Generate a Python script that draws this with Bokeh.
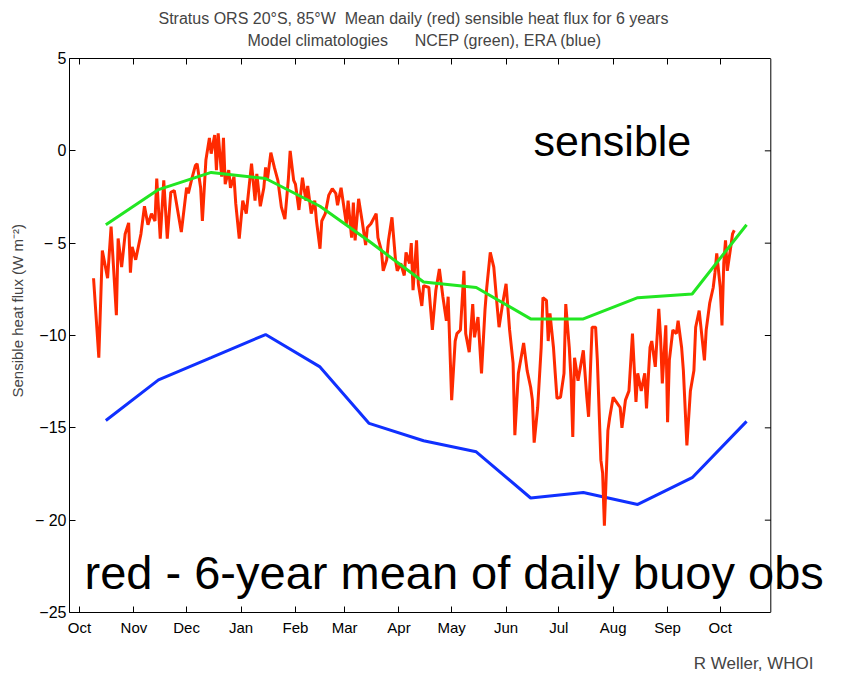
from bokeh.plotting import figure
from bokeh.models import Range1d, FixedTicker, LinearAxis, Label, Title, Span
from bokeh.embed import file_html
from bokeh.resources import INLINE

# ---- data ----
month_days = [0, 31, 61, 92, 123, 151, 182, 212, 243, 273, 304, 335, 365]
month_labels = ["Oct", "Nov", "Dec", "Jan", "Feb", "Mar", "Apr", "May", "Jun",
                "Jul", "Aug", "Sep", "Oct"]

clim_day = [15, 45, 75, 106, 137, 165, 196, 226, 257, 287, 318, 349, 380]
ncep_flux = [-4.0, -2.1, -1.17, -1.5, -3.0, -4.9, -7.1, -7.4, -9.1, -9.1, -7.95, -7.75, -4.0]
era_flux = [-14.6, -12.4, -11.2, -9.95, -11.7, -14.76, -15.7, -16.3, -18.8, -18.5, -19.15, -17.7, -14.65]

buoy_day = [8, 11, 13, 16, 18, 21, 22, 24, 26, 28, 29, 30, 32, 35, 37, 39, 41, 43, 44, 46,
            48, 50, 52, 54, 58, 61, 62, 64, 66, 67, 69, 70, 72, 74, 75, 77, 78, 79, 81, 82,
            83, 85, 86, 88, 89, 90, 91, 93, 95, 96, 98, 100, 101, 103, 105, 106, 107, 109, 111, 113,
            115, 117, 119, 120, 122, 123, 125, 127, 129, 130, 132, 134, 135, 137, 138, 140, 142, 144, 146, 147,
            149, 152, 153, 155, 156, 157, 159, 161, 163, 164, 166, 169, 170, 172, 173, 175, 176, 178, 180, 181,
            183, 185, 186, 188, 189, 190, 192, 193, 195, 196, 199, 201, 203, 205, 207, 209, 210, 212, 214, 215,
            217, 219, 220, 222, 224, 225, 227, 229, 231, 232, 234, 236, 238, 239, 241, 243, 245, 247, 248, 250,
            253, 255, 257, 258, 259, 261, 263, 264, 266, 267, 268, 270, 271, 272, 274, 276, 277, 279, 280, 281,
            282, 284, 287, 289, 290, 292, 294, 295, 297, 298, 299, 301, 302, 304, 308, 309, 311, 313, 315, 317,
            318, 320, 322, 323, 325, 326, 328, 330, 331, 332, 334, 335, 336, 338, 340, 341, 343, 344, 346, 348,
            350, 351, 353, 354, 356, 357, 359, 361, 362, 363, 365, 366, 367, 368, 369, 371, 372, 373]
buoy_flux = [-6.9, -11.2, -5.4, -6.9, -4.1, -8.9, -4.75, -6.3, -4.5, -3.9, -6.6, -5.2, -5.9, -4.5, -3.0, -4.0, -3.4, -3.8, -1.5, -4.75,
             -1.6, -4.75, -2.25, -2.15, -4.4, -2.0, -2.3, -1.5, -0.8, -0.7, -2.0, -3.8, -0.5, 0.7, -0.15, 0.85, -1.05, 0.95, -1.4, 0.7,
             -1.8, -1.05, -2.0, -1.4, -2.85, -3.8, -4.75, -2.7, -3.4, -2.5, -0.7, -2.7, -1.25, -3.0, -2.0, -0.9, -1.6, -0.1, -0.9, -1.6,
             -3.05, -3.7, -1.5, 0.0, -1.6, -1.8, -3.2, -1.45, -2.7, -1.9, -3.4, -2.7, -3.8, -5.3, -3.8, -3.4, -2.4, -2.05, -2.3, -2.95,
             -2.0, -3.95, -2.7, -4.7, -2.8, -4.85, -2.6, -3.8, -5.1, -4.15, -3.95, -3.4, -4.7, -5.4, -6.5, -5.9, -4.85, -3.6, -5.9, -6.5,
             -6.1, -6.75, -5.5, -6.1, -5.0, -7.55, -4.85, -7.2, -8.4, -7.3, -7.4, -9.7, -7.55, -6.4, -7.9, -9.2, -7.9, -13.5, -10.3, -9.9,
             -9.7, -6.5, -9.9, -10.9, -8.3, -10.1, -9.0, -12.05, -8.6, -7.4, -5.5, -6.3, -8.5, -9.55, -8.3, -7.2, -9.7, -11.5, -15.4, -12.05,
             -10.4, -11.9, -12.8, -13.5, -15.8, -13.9, -10.65, -7.95, -8.1, -10.3, -8.8, -10.65, -12.05, -13.4, -13.35, -12.05, -8.3, -10.65, -12.4, -15.5,
             -11.2, -12.45, -10.8, -13.35, -14.4, -9.55, -9.55, -11.35, -16.75, -17.45, -20.3, -15.15, -14.45, -13.35, -13.9, -15.0, -13.5, -13.0, -9.9, -13.6,
             -12.05, -13.0, -12.05, -13.95, -10.65, -10.3, -11.7, -8.55, -10.1, -12.6, -9.45, -14.7, -11.35, -9.7, -9.9, -9.2, -10.65, -11.9, -15.95, -13.0,
             -11.9, -9.55, -8.65, -9.55, -11.35, -9.7, -8.25, -7.4, -6.6, -5.55, -7.4, -9.45, -6.1, -4.85, -6.5, -5.2, -4.5, -4.3]

y_ticks = [-25, -20, -15, -10, -5, 0, 5]
y_tick_labels = ["\u221225", "\u2212 20", "\u221215", "\u221210", "\u2212 5", "0", "5"]

# ---- layout constants ----
FONT = "Liberation Sans"
X_START, X_BOX_END, X_VIEW_END = -5.7, 393.8, 426.1   # plotted box ends at X_BOX_END
TICK_LEN_DAYS = 3.4

p = figure(width=827, height=676, output_backend="svg", toolbar_location=None,
           x_range=Range1d(X_START, X_VIEW_END), y_range=Range1d(-25, 5),
           min_border_left=65, min_border_right=0, min_border_top=58, min_border_bottom=64,
           x_axis_location=None, y_axis_location=None)
p.grid.visible = False
p.outline_line_color = None
p.background_fill_color = "white"
p.border_fill_color = "white"

xticker = FixedTicker(ticks=month_days)
yticker = FixedTicker(ticks=y_ticks)


def style(ax):
    ax.axis_line_color = "black"
    ax.major_tick_line_color = "black"
    ax.major_tick_in = 6
    ax.major_tick_out = 0
    ax.minor_tick_line_color = None
    ax.minor_tick_out = 0
    ax.major_label_text_font = FONT
    ax.major_label_text_color = "black"


def spacer(px):
    # an undrawn axis used only to reserve vertical space in a side panel
    ax = LinearAxis(ticker=xticker, bounds=(X_START, X_BOX_END))
    ax.axis_line_color = None
    ax.major_tick_line_color = None
    ax.minor_tick_line_color = None
    ax.major_tick_in = 0
    ax.major_tick_out = px
    ax.minor_tick_out = 0
    ax.major_label_text_color = None
    ax.major_label_text_font_size = "1px"
    ax.major_label_standoff = 0
    return ax


xb = LinearAxis(ticker=xticker, bounds=(X_START, X_BOX_END),
                major_label_overrides={d: l for d, l in zip(month_days, month_labels)})
style(xb)
xb.major_label_text_font_size = "15px"
xb.major_label_standoff = 6
p.add_layout(xb, "below")
p.add_layout(spacer(13), "below")
p.add_layout(Title(text="R Weller, WHOI", text_font=FONT, text_font_size="17px",
                   text_font_style="normal", align="right", offset=14, standoff=1), "below")

xt = LinearAxis(ticker=xticker, bounds=(X_START, X_BOX_END))
style(xt)
xt.major_label_text_font_size = "1px"
xt.major_label_text_color = None
xt.major_label_standoff = 0
p.add_layout(xt, "above")
p.add_layout(spacer(7), "above")

p.add_layout(Title(text="Model climatologies\u00a0\u00a0\u00a0\u00a0\u00a0\u00a0NCEP (green), ERA (blue)",
                   text_font=FONT, text_font_size="16px", text_font_style="normal",
                   align="left", offset=178, standoff=5), "above")
p.add_layout(Title(text="Stratus ORS 20\u00b0S, 85\u00b0W\u00a0\u00a0Mean daily (red) sensible heat flux for 6 years",
                   text_font=FONT, text_font_size="16px", text_font_style="normal",
                   align="left", offset=89, standoff=2), "above")

yl = LinearAxis(ticker=yticker, major_label_overrides={t: l for t, l in zip(y_ticks, y_tick_labels)})
style(yl)
yl.major_label_text_font_size = "16px"
yl.major_label_standoff = 3
p.add_layout(yl, "left")

p.add_layout(Title(text="Sensible heat flux (W m\u207b\u00b2)", text_font=FONT, text_font_size="15px",
                   text_font_style="normal", align="left", offset=215, standoff=12), "left")

# right edge of the box with inward ticks
p.add_layout(Span(location=X_BOX_END, dimension="height", line_color="black", line_width=1))
p.segment(x0=[X_BOX_END - TICK_LEN_DAYS] * len(y_ticks), x1=[X_BOX_END] * len(y_ticks),
          y0=y_ticks, y1=y_ticks, line_color="black", line_width=1)

p.line(clim_day, era_flux, line_color="#1030ff", line_width=3)
p.line(buoy_day, buoy_flux, line_color="#ff2a00", line_width=3)
p.line(clim_day, ncep_flux, line_color="#22e622", line_width=3)

common = dict(x_units="screen", y_units="screen", text_font=FONT, text_color="black")
p.add_layout(Label(x=464, y=472, text="sensible", text_font_size="43px",
                   text_align="left", text_baseline="alphabetic", **common))
p.add_layout(Label(x=15, y=40, text="red - 6-year mean of daily buoy obs", text_font_size="47px",
                   text_align="left", text_baseline="alphabetic", **common))

open("out.html", "w").write(file_html(p, INLINE))
